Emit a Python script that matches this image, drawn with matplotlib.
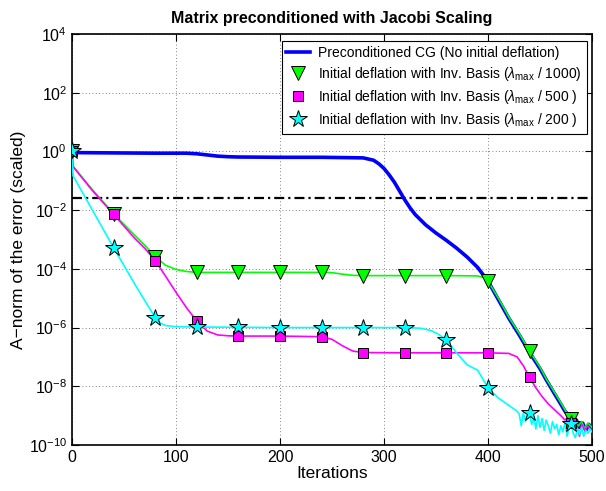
import numpy as np
import matplotlib
matplotlib.use('Agg')
import matplotlib.pyplot as plt

plt.rcParams['font.family'] = ['Liberation Sans', 'DejaVu Sans']
plt.rcParams['mathtext.fontset'] = 'custom'
plt.rcParams['mathtext.rm'] = 'Liberation Sans'
plt.rcParams['mathtext.it'] = 'Liberation Sans:italic'
plt.rcParams['mathtext.bf'] = 'Liberation Sans:bold'

# Data: iteration and log10 of the scaled A-norm error
blue_it = [0, 1, 40, 80, 110, 120, 130, 140, 150, 160, 200, 240, 280, 290, 295, 300, 305,
           310, 315, 320, 325, 330, 340, 350, 360, 370, 380, 390, 400, 410, 420, 430, 440,
           450, 456, 463, 469, 474, 479, 482, 485, 488, 491, 494, 497, 500]
blue_log = [-0.02, -0.04, -0.05, -0.06, -0.06, -0.08, -0.12, -0.16, -0.18, -0.19, -0.2,
            -0.2, -0.22, -0.3, -0.42, -0.58, -0.8, -1.05, -1.35, -1.65, -1.92, -2.15,
            -2.5, -2.78, -3.03, -3.3, -3.6, -3.95, -4.42, -5.05, -5.68, -6.25, -6.85, -7.4,
            -7.78, -8.2, -8.55, -8.85, -9.05, -9.3, -9.15, -9.4, -9.25, -9.5, -9.3, -9.45]

green_it = [0, 1, 20, 40, 60, 70, 80, 90, 100, 110, 120, 160, 200, 240, 250, 260, 270, 280,
            320, 360, 390, 396, 400, 410, 421, 430, 440, 450, 456, 463, 469, 474, 477, 480,
            484, 487, 490, 493, 496, 500]
green_log = [0, -0.5, -1.32, -2.12, -2.85, -3.2, -3.58, -3.88, -4.02, -4.09, -4.12, -4.12,
             -4.12, -4.12, -4.13, -4.18, -4.22, -4.23, -4.23, -4.23, -4.24, -4.3, -4.42, -5.0,
             -5.7, -6.2, -6.8, -7.35, -7.75, -8.15, -8.5, -8.8, -9.0, -9.1, -9.2, -9.35,
             -9.2, -9.45, -9.25, -9.4]

pink_it = [0, 1, 20, 40, 60, 70, 80, 90, 100, 110, 120, 130, 140, 150, 160, 200, 240, 250,
           260, 270, 280, 320, 360, 400, 420, 428, 434, 440, 446, 452, 458, 464, 470, 474,
           477, 480, 483, 486, 488, 490, 493, 496, 500]
pink_log = [0, -0.52, -1.35, -2.14, -2.95, -3.3, -3.72, -4.25, -4.8, -5.32, -5.78, -6.12,
            -6.25, -6.28, -6.29, -6.29, -6.31, -6.4, -6.62, -6.8, -6.85, -6.86, -6.86, -6.86,
            -6.88, -7.0, -7.3, -7.7, -8.05, -8.35, -8.6, -8.8, -9.0, -9.15, -9.05, -9.25,
            -9.2, -9.45, -9.7, -9.3, -9.5, -9.35, -9.55]

cyan_it = [0, 1, 40, 60, 80, 85, 90, 100, 120, 160, 200, 240, 280, 320, 335, 345, 352, 360,
           370, 380, 390, 400, 410, 420, 428] + list(range(430, 501, 2))
cyan_log = [0, -0.83, -3.28, -4.5, -5.66, -5.85, -5.93, -5.97, -5.98, -5.99, -6.0, -6.0,
            -6.0, -6.0, -6.02, -6.1, -6.22, -6.42, -6.87, -7.27, -7.45, -8.05, -8.4, -8.65,
            -8.85,
            -8.95, -9.35, -8.9, -9.2, -8.95, -8.92, -9.3, -9.05, -9.45, -9.0, -9.4, -9.1,
            -9.5, -9.15, -9.35, -9.6, -9.2, -9.45, -9.3, -9.65, -9.35, -9.55, -9.25, -9.7,
            -9.4, -9.3, -9.6, -9.75, -9.45, -9.65, -9.4, -9.7, -9.5, -9.6, -9.45, -9.55]

threshold = 2.5e-2
marker_every = 40

labels = ['Preconditioned CG (No initial deflation)',
          r'Initial deflation with Inv. Basis ($\lambda_{\rm max}$ / 1000)',
          r'Initial deflation with Inv. Basis ($\lambda_{\rm max}$ / 500 )',
          r'Initial deflation with Inv. Basis ($\lambda_{\rm max}$ / 200 )']

fig = plt.figure(figsize=(6.06, 4.91), dpi=100)
ax = fig.add_axes([72/606, 46/491, 520/606, 411/491])

def series(it, lg):
    it = np.array(it)
    val = 10.0 ** np.array(lg)
    mask = (it % marker_every == 0)
    return it, val, mask

b_it, b_val, _ = series(blue_it, blue_log)
g_it, g_val, g_m = series(green_it, green_log)
p_it, p_val, p_m = series(pink_it, pink_log)
c_it, c_val, c_m = series(cyan_it, cyan_log)

ax.plot(b_it, b_val, color='#0000ff', lw=2.6, label=labels[0], zorder=3)
ax.plot(g_it, g_val, color='#00ff00', lw=1.2, zorder=4)
ax.plot(p_it, p_val, color='#ff00ff', lw=1.2, zorder=4)
ax.plot(c_it, c_val, color='#00ffff', lw=1.2, zorder=4)

ax.plot(g_it[g_m], g_val[g_m], ls='none', marker='v', ms=10, mfc='#00ff00', mec='k',
        mew=0.7, label=labels[1], zorder=5)
ax.plot(p_it[p_m], p_val[p_m], ls='none', marker='s', ms=7.5, mfc='#ff00ff', mec='k',
        mew=0.7, label=labels[2], zorder=6)
ax.plot(c_it[c_m], c_val[c_m], ls='none', marker='*', ms=13, mfc='#00ffff', mec='k',
        mew=0.7, label=labels[3], zorder=7)

ax.axhline(threshold, color='k', lw=1.6, ls=(0, (4.5, 1.8, 1, 1.8)), zorder=2)

ax.set_yscale('log')
ax.set_xlim(0, 500)
ax.set_ylim(1e-10, 1e4)
ax.set_xticks([0, 100, 200, 300, 400, 500])
ax.set_yticks([10.0 ** k for k in range(-10, 5, 2)])
ax.yaxis.set_minor_locator(matplotlib.ticker.NullLocator())
ax.tick_params(direction='in', top=True, right=True, labelsize=11.5, length=5, width=0.8)
ax.grid(True, color='0.35', ls=(0, (1, 3)), lw=0.6)
for s in ax.spines.values():
    s.set_linewidth(1.2)

ax.set_title('Matrix preconditioned with Jacobi Scaling', fontsize=11.5, fontweight='bold', pad=8)
ax.set_xlabel('Iterations', fontsize=12.5, labelpad=1)
ax.set_ylabel('A\u2212norm of the error (scaled)', fontsize=12.5, labelpad=2)

leg = ax.legend(loc='upper right', bbox_to_anchor=(0.990, 0.983), borderaxespad=0,
                fontsize=10, labelspacing=0.37, handlelength=1.7, handletextpad=0.6,
                borderpad=0.35, fancybox=False, framealpha=1, edgecolor='k')
leg.get_frame().set_linewidth(0.8)

fig.savefig('out.png', dpi=100)
